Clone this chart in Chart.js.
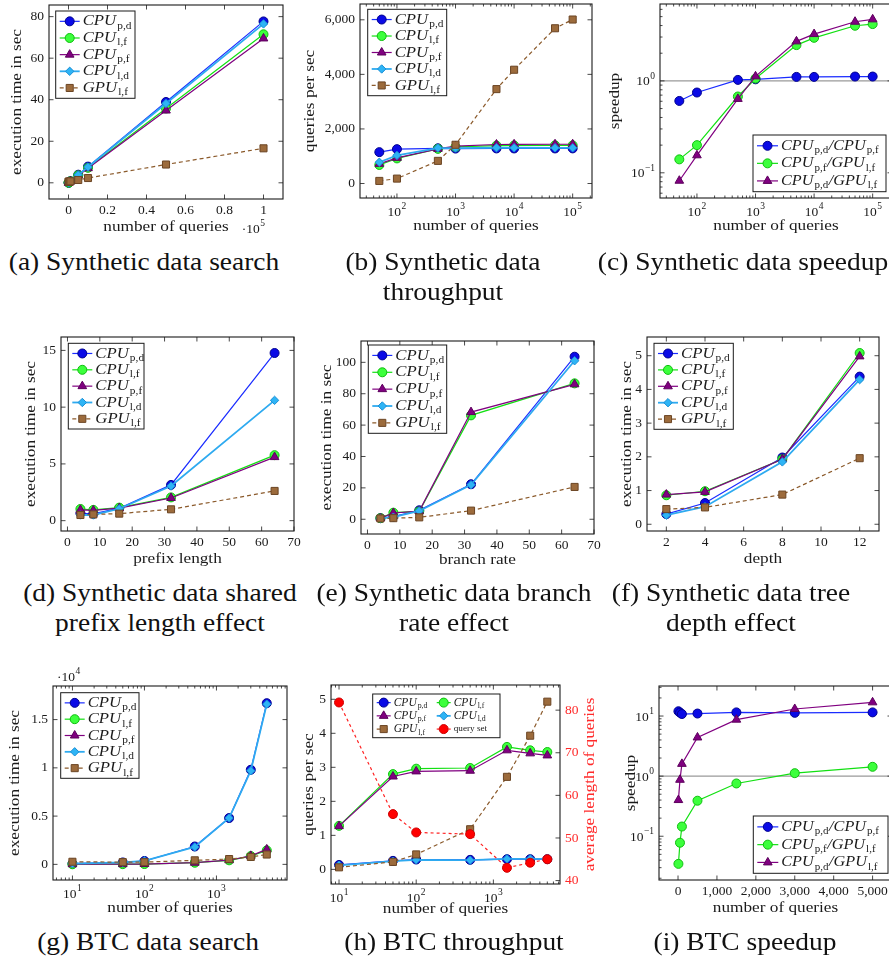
<!DOCTYPE html>
<html>
<head>
<meta charset="utf-8">
<script src="https://cdn.jsdelivr.net/npm/chart.js@4.4.0/dist/chart.umd.min.js"></script>
<style>
  body { margin: 0; background: #fff; overflow: hidden; }
  #page { position: relative; width: 889px; height: 963px; overflow: hidden; background: #fff; }
  .cap {
    position: absolute; white-space: nowrap; color: #111; line-height: 1;
    font-family: "Liberation Serif", "Times New Roman", serif; font-size: 24.5px;
    transform-origin: 0 0; transform: scaleX(1.12) translateX(-50%);
  }
</style>
</head>
<body>
<div id="page"></div>
<script>
// ---- data ----
const synthQ = [50, 100, 500, 1000, 5000, 10000, 50000, 100000];
const btcQ = [10, 50, 100, 500, 1500, 3000, 5000];
const prefixLen = [4, 8, 16, 32, 64];
const branchRate = [4, 8, 16, 32, 64];
const treeDepth = [2, 4, 8, 12];

const timeLabels = ['CPU_{p,d}', 'CPU_{l,f}', 'CPU_{p,f}', 'CPU_{l,d}', 'GPU_{l,f}'];
const speedLabels = ['CPU_{p,d}/CPU_{p,f}', 'CPU_{p,f}/GPU_{l,f}', 'CPU_{p,d}/GPU_{l,f}'];
const btcThroughLabels = ['CPU_{p,d}', 'CPU_{l,f}', 'CPU_{p,f}', 'CPU_{l,d}', 'GPU_{l,f}', 'query set'];

// (a) synthetic search, seconds (x in units of 10^5 queries)
const aCpuPd = [0.04, 0.08, 0.39, 0.78, 3.9, 7.8, 38.9, 77.7];
const aCpuLf = [0.07, 0.11, 0.39, 0.75, 3.6, 7.2, 35.8, 71.5];
const aCpuPf = [0.07, 0.11, 0.39, 0.73, 3.5, 7.0, 34.8, 69.5];
const aCpuLd = [0.06, 0.10, 0.38, 0.77, 3.8, 7.6, 38.2, 76.5];
const aGpuLf = [0.5, 0.55, 0.6, 0.7, 1.35, 2.3, 8.8, 16.6];

// (b) synthetic throughput, queries per sec
const bCpuPd = [1150, 1260, 1290, 1280, 1285, 1285, 1285, 1287];
const bCpuLf = [680, 920, 1270, 1340, 1390, 1395, 1398, 1398];
const bCpuPf = [720, 940, 1270, 1370, 1430, 1435, 1438, 1439];
const bCpuLd = [780, 1030, 1300, 1300, 1310, 1310, 1308, 1307];
const bGpuLf = [95, 180, 830, 1420, 3460, 4170, 5690, 6010];

// (c) synthetic speedup
const cPdPf = [0.605, 0.747, 1.025, 1.04, 1.105, 1.105, 1.115, 1.115];
const cPfGpu = [0.14, 0.2, 0.676, 1.06, 2.45, 2.94, 3.98, 4.15];
const cPdGpu = [0.082, 0.155, 0.637, 1.12, 2.69, 3.23, 4.4, 4.67];

// (d) shared prefix length
const dCpuPd = [0.65, 0.6, 1.1, 3.15, 14.77];
const dCpuLf = [1.03, 0.95, 1.15, 2.05, 5.77];
const dCpuPf = [0.95, 0.9, 1.1, 2.0, 5.6];
const dCpuLd = [0.5, 0.5, 1.05, 3.05, 10.6];
const dGpuLf = [0.5, 0.55, 0.62, 1.0, 2.62];

// (e) branch rate
const eCpuPd = [0.7, 1.7, 5.7, 22.3, 103.6];
const eCpuLf = [0.7, 4.2, 5.0, 66.2, 86.6];
const eCpuPf = [0.7, 4.0, 5.2, 68.3, 86.0];
const eCpuLd = [0.5, 1.3, 5.3, 22.0, 101.0];
const eGpuLf = [0.5, 0.7, 1.2, 5.5, 20.6];

// (f) tree depth
const fCpuPd = [0.3, 0.63, 1.98, 4.38];
const fCpuLf = [0.86, 0.98, 1.93, 5.08];
const fCpuPf = [0.88, 0.96, 1.93, 4.98];
const fCpuLd = [0.27, 0.52, 1.85, 4.29];
const fGpuLf = [0.45, 0.5, 0.88, 1.96];

// (g) BTC search, 10^4 seconds
const gCpuPd = [0.008, 0.02, 0.035, 0.185, 0.48, 0.98, 1.67];
const gCpuLf = [0.001, 0.002, 0.0034, 0.017, 0.042, 0.086, 0.145];
const gCpuPf = [0.001, 0.002, 0.0035, 0.017, 0.043, 0.088, 0.155];
const gCpuLd = [0.008, 0.021, 0.036, 0.18, 0.48, 0.97, 1.66];
const gGpuLf = [0.027, 0.023, 0.023, 0.042, 0.055, 0.077, 0.102];

// (h) BTC throughput + average query length
const hCpuPd = [0.13, 0.25, 0.29, 0.28, 0.30, 0.30, 0.30];
const hCpuLf = [1.28, 2.8, 2.96, 2.98, 3.6, 3.5, 3.45];
const hCpuPf = [1.27, 2.73, 2.88, 2.9, 3.5, 3.41, 3.35];
const hCpuLd = [0.12, 0.24, 0.28, 0.27, 0.31, 0.31, 0.31];
const hGpuLf = [0.06, 0.22, 0.44, 1.18, 2.72, 3.93, 4.93];
const hQueryLen = [81.8, 55.6, 51.3, 50.9, 43.0, 44.2, 45.0];

// (i) BTC speedup
const iPdPf = [12.0, 11.4, 10.8, 11.0, 11.5, 11.3, 11.5];
const iPfGpu = [0.0347, 0.078, 0.145, 0.39, 0.755, 1.12, 1.43];
const iPdGpu = [0.40, 0.87, 1.6, 4.4, 8.7, 13.1, 16.9];

// tick values
const aXTicks = [0, 0.2, 0.4, 0.6, 0.8, 1];
const aYTicks = [0, 20, 40, 60, 80];
const synthLogTicks = [1e2, 1e3, 1e4, 1e5];
const bYTicks = [0, 2000, 4000, 6000];
const cYTicks = [0.1, 1];
const pbXTicks = [0, 10, 20, 30, 40, 50, 60, 70];
const dYTicks = [0, 5, 10, 15];
const eYTicks = [0, 20, 40, 60, 80, 100];
const fXTicks = [2, 4, 6, 8, 10, 12];
const fYTicks = [0, 1, 2, 3, 4, 5];
const btcLogTicks = [1e1, 1e2, 1e3];
const gYTicks = [0, 0.5, 1, 1.5];
const hYTicks = [0, 1, 2, 3, 4, 5];
const hY2Ticks = [40, 50, 60, 70, 80];
const iXTicks = [0, 1000, 2000, 3000, 4000, 5000];
const iYTicks = [0.1, 1, 10];

// ---- styling ----
const FONT = '"Liberation Serif", "Times New Roman", serif';
const INK = '#1a1a1a';
const WORD_SX = 1.12;
const M = { l: 60, t: 30, r: 45, b: 45 };

const STY = {
  cpuPd: { borderColor: '#1a2cff', borderWidth: 1.2, pointStyle: 'circle', pointRadius: 4.5,
           pointBackgroundColor: '#0a0ae6', pointBorderColor: '#00008f' },
  cpuLf: { borderColor: '#12e012', borderWidth: 1.2, pointStyle: 'circle', pointRadius: 4.5,
           pointBackgroundColor: '#3cff3c', pointBorderColor: '#0fbf0f' },
  cpuPf: { borderColor: '#800080', borderWidth: 1.2, pointStyle: 'triangle', pointRadius: 5,
           pointBackgroundColor: '#800080', pointBorderColor: '#5c005c' },
  cpuLd: { borderColor: '#2eaaf0', borderWidth: 1.8, pointStyle: 'rectRot', pointRadius: 4.2,
           pointBackgroundColor: '#2eb4f5', pointBorderColor: '#1a8fd6' },
  gpuLf: { borderColor: '#8b5a2b', borderWidth: 1.2, borderDash: [4, 3], pointStyle: 'rect', pointRadius: 5,
           pointBackgroundColor: '#9c6b3c', pointBorderColor: '#6b4524' },
  query: { borderColor: '#ff2222', borderWidth: 1.2, borderDash: [3, 3], pointStyle: 'circle', pointRadius: 4.5,
           pointBackgroundColor: '#ff0000', pointBorderColor: '#cc0000' }
};

const page = document.getElementById('page');
const SPECS = {};

function txt(ctx, s, x, y, o) {
  ctx.save();
  ctx.translate(x, y);
  if (o.rot) ctx.rotate(o.rot);
  ctx.scale(o.sx || 1, 1);
  ctx.font = (o.italic ? 'italic ' : '') + o.size + 'px ' + FONT;
  ctx.fillStyle = o.color || INK;
  ctx.textAlign = o.align || 'center';
  ctx.textBaseline = 'middle';
  ctx.fillText(s, 0, 0);
  ctx.restore();
}

function measure(ctx, s, size) {
  ctx.save();
  ctx.font = size + 'px ' + FONT;
  const w = ctx.measureText(s).width;
  ctx.restore();
  return w;
}

// 10^k style label
function powLabel(ctx, k, x, y, align, color, prefix) {
  const base = (prefix || '') + '10';
  const ex = k < 0 ? '\u2212' + (-k) : String(k);
  const wb = measure(ctx, base, 13.5), we = measure(ctx, ex, 9.5);
  const w = wb + we + 0.5;
  const x0 = align === 'right' ? x - w : align === 'left' ? x : x - w / 2;
  txt(ctx, base, x0, y, { size: 13.5, align: 'left', color });
  txt(ctx, ex, x0 + wb + 0.5, y - 5.5, { size: 9.5, align: 'left', color });
}

// "CPU_{p,d}" -> italic CPU with small upright subscript
function mathText(ctx, s, x, y, size, sx) {
  ctx.save();
  ctx.translate(x, y);
  ctx.scale(sx, 1);
  ctx.fillStyle = INK;
  ctx.textAlign = 'left';
  ctx.textBaseline = 'middle';
  if (s.indexOf('_') < 0) {
    ctx.font = (size * 0.8) + 'px ' + FONT;
    ctx.fillText(s, 0, 0);
    ctx.restore();
    return;
  }
  const parts = s.split(/_\{([^}]*)\}/);
  let cx = 0;
  parts.forEach((p, i) => {
    if (!p) return;
    const sub = i % 2 === 1;
    ctx.font = (sub ? '' : 'italic ') + (sub ? size * 0.68 : size) + 'px ' + FONT;
    ctx.fillText(p, cx, sub ? size * 0.3 : 0);
    cx += ctx.measureText(p).width + (sub ? 0.5 : 1);
  });
  ctx.restore();
}

function drawAxis(chart, sc, ax, kind) {
  const ctx = chart.ctx, ca = chart.chartArea;
  const horiz = kind === 'x';
  const sides = ax.sides || (horiz ? ['bottom', 'top'] : ['left', 'right']);
  ctx.save();
  ctx.strokeStyle = INK;
  ctx.lineWidth = 0.8;
  const tick = (v, len) => {
    const p = sc.getPixelForValue(v);
    if (horiz ? (p < ca.left - 0.5 || p > ca.right + 0.5) : (p < ca.top - 0.5 || p > ca.bottom + 0.5)) return null;
    ctx.beginPath();
    sides.forEach(sd => {
      if (sd === 'bottom') { ctx.moveTo(p, ca.bottom); ctx.lineTo(p, ca.bottom - len); }
      if (sd === 'top') { ctx.moveTo(p, ca.top); ctx.lineTo(p, ca.top + len); }
      if (sd === 'left') { ctx.moveTo(ca.left, p); ctx.lineTo(ca.left + len, p); }
      if (sd === 'right') { ctx.moveTo(ca.right, p); ctx.lineTo(ca.right - len, p); }
    });
    ctx.stroke();
    return p;
  };
  if (ax.log) {
    const lo = Math.floor(Math.log10(sc.min)), hi = Math.ceil(Math.log10(sc.max));
    for (let k = lo; k <= hi; k++) {
      for (let m = 2; m <= 9; m++) tick(m * Math.pow(10, k), 2.5);
    }
  }
  const color = ax.color || INK;
  ax.ticks.forEach(v => {
    const p = tick(v, 4.5);
    if (p == null) return;
    if (ax.log) {
      const k = Math.round(Math.log10(v));
      if (horiz) powLabel(ctx, k, p, ca.bottom + 14, 'center', color);
      else if (kind === 'y') powLabel(ctx, k, ca.left - 5, p + 1, 'right', color);
      else powLabel(ctx, k, ca.right + 5, p + 1, 'left', color);
    } else {
      const s = v.toLocaleString('en-US');
      if (horiz) txt(ctx, s, p, ca.bottom + 11, { size: 13.5, color });
      else if (kind === 'y') txt(ctx, s, ca.left - 5, p, { size: 13.5, align: 'right', color });
      else txt(ctx, s, ca.right + 5, p, { size: 13.5, align: 'left', color });
    }
  });
  ctx.restore();
}

function drawMarker(ctx, ds, x, y) {
  ctx.fillStyle = ds.pointBackgroundColor;
  ctx.strokeStyle = ds.pointBorderColor;
  ctx.lineWidth = 1;
  Chart.helpers.drawPoint(ctx, { pointStyle: ds.pointStyle, radius: ds.pointRadius, rotation: 0, borderWidth: 1 }, x, y);
}

function drawLegend(chart, S) {
  const lg = S.legend, ctx = chart.ctx;
  const x0 = lg.x - S.ox, y0 = lg.y - S.oy;
  ctx.save();
  ctx.fillStyle = '#fff';
  ctx.fillRect(x0, y0, lg.w, lg.h);
  ctx.strokeStyle = INK;
  ctx.lineWidth = 1;
  ctx.strokeRect(x0, y0, lg.w, lg.h);
  const cols = lg.cols || 1;
  const rows = Math.ceil(lg.labels.length / cols);
  const rowH = (lg.h - 4) / rows;
  lg.labels.forEach((lab, i) => {
    const ds = chart.data.datasets[i];
    const col = i % cols, row = Math.floor(i / cols);
    const sx = x0 + 4 + col * (lg.colW || 0);
    const cy = y0 + 2 + rowH * (row + 0.5);
    ctx.save();
    ctx.strokeStyle = ds.borderColor;
    ctx.lineWidth = ds.borderWidth;
    ctx.setLineDash(ds.borderDash || []);
    ctx.beginPath();
    ctx.moveTo(sx, cy);
    ctx.lineTo(sx + lg.sample, cy);
    ctx.stroke();
    ctx.setLineDash([]);
    drawMarker(ctx, ds, sx + lg.sample / 2, cy);
    ctx.restore();
    mathText(ctx, lab, sx + lg.sample + 3, cy, lg.size, lg.sx || 1.08);
  });
  ctx.restore();
}

const pgf = {
  id: 'pgf',
  beforeDatasetsDraw(chart) {
    const S = SPECS[chart.canvas.id];
    if (S.hline == null) return;
    const ctx = chart.ctx, ca = chart.chartArea;
    const py = chart.scales.y.getPixelForValue(S.hline);
    ctx.save();
    ctx.strokeStyle = '#9a9a9a';
    ctx.lineWidth = 1.3;
    ctx.beginPath();
    ctx.moveTo(ca.left, py);
    ctx.lineTo(ca.right, py);
    ctx.stroke();
    ctx.restore();
  },
  afterDatasetsDraw(chart) {
    const S = SPECS[chart.canvas.id];
    const ctx = chart.ctx, ca = chart.chartArea;
    ctx.save();
    ctx.strokeStyle = INK;
    ctx.lineWidth = 1.1;
    ctx.strokeRect(ca.left, ca.top, ca.right - ca.left, ca.bottom - ca.top);
    ctx.restore();
    drawAxis(chart, chart.scales.x, S.x, 'x');
    drawAxis(chart, chart.scales.y, S.y, 'y');
    if (S.y2) drawAxis(chart, chart.scales.y2, S.y2, 'y2');

    const midX = (ca.left + ca.right) / 2, midY = (ca.top + ca.bottom) / 2;
    txt(ctx, S.xTitle, midX, ca.bottom + (S.xTitleOff || 28), { size: 15.4, sx: WORD_SX });
    txt(ctx, S.yTitle, ca.left - S.yTitleOff, midY, { size: 15.4, sx: WORD_SX, rot: -Math.PI / 2 });
    if (S.y2) {
      txt(ctx, S.y2.title, ca.right + S.y2.titleOff, midY,
          { size: 15.4, sx: WORD_SX, rot: -Math.PI / 2, color: S.y2.color });
    }
    if (S.mult) powLabel(ctx, S.mult.exp, S.mult.x - S.ox, S.mult.y - S.oy, 'left', INK, '\u00b7');
    if (S.legend) drawLegend(chart, S);
  }
};

function makePanel(id, S) {
  const b = S.box;
  S.ox = Math.round(b.L - M.l);
  S.oy = Math.round(b.T - M.t);
  const w = Math.round(b.R - b.L) + M.l + M.r;
  const h = Math.round(b.B - b.T) + M.t + M.b;
  const cv = document.createElement('canvas');
  cv.id = id;
  cv.width = w;
  cv.height = h;
  cv.style.cssText = 'position:absolute;left:' + S.ox + 'px;top:' + S.oy + 'px;width:' + w + 'px;height:' + h + 'px';
  page.appendChild(cv);
  SPECS[id] = S;

  const scale = (ax, pos, fit) => ({
    type: ax.log ? 'logarithmic' : 'linear', position: pos, min: ax.min, max: ax.max, bounds: 'data',
    grid: { display: false }, border: { display: false }, ticks: { display: false }, afterFit: fit
  });
  const scales = {
    x: scale(S.x, 'bottom', s => { s.height = M.b; }),
    y: scale(S.y, 'left', s => { s.width = M.l; })
  };
  if (S.y2) scales.y2 = scale(S.y2, 'right', s => { s.width = M.r; });

  const n = S.series.length;
  const datasets = S.series.map((sr, i) => Object.assign({
    data: sr.x.map((x, j) => ({ x: x, y: sr.y[j] })),
    yAxisID: sr.axis || 'y',
    order: n - i,
    fill: false,
    tension: 0,
    pointBorderWidth: 1
  }, STY[sr.style]));

  new Chart(cv, {
    type: 'line',
    data: { datasets },
    options: {
      responsive: false,
      animation: false,
      events: [],
      layout: { padding: { left: 0, top: M.t, right: S.y2 ? 0 : M.r, bottom: 0 } },
      plugins: { legend: { display: false }, tooltip: { enabled: false } },
      scales
    },
    plugins: [pgf]
  });
}

const aQ = synthQ.map(q => q / 1e5);
const five = (xs, ys) => [
  { x: xs, y: ys[0], style: 'cpuPd' }, { x: xs, y: ys[1], style: 'cpuLf' },
  { x: xs, y: ys[2], style: 'cpuPf' }, { x: xs, y: ys[3], style: 'cpuLd' },
  { x: xs, y: ys[4], style: 'gpuLf' }
];
const three = (xs, ys) => [
  { x: xs, y: ys[0], style: 'cpuPd' }, { x: xs, y: ys[1], style: 'cpuLf' }, { x: xs, y: ys[2], style: 'cpuPf' }
];

makePanel('pa', {
  box: { L: 49, T: 5, R: 283, B: 199 },
  x: { min: -0.1, max: 1.1, ticks: aXTicks },
  y: { min: -7.8, max: 85.6, ticks: aYTicks },
  xTitle: 'number of queries', yTitle: 'execution time in sec', yTitleOff: 32,
  series: five(aQ, [aCpuPd, aCpuLf, aCpuPf, aCpuLd, aGpuLf]),
  legend: { x: 55.7, y: 11, w: 79.3, h: 87.3, sample: 20, size: 15.5, labels: timeLabels },
  mult: { exp: 5, x: 241.7, y: 229 }
});

makePanel('pb', {
  box: { L: 360.3, T: 3.5, R: 592.7, B: 197.5 },
  x: { log: true, min: 23.4, max: 213800, ticks: synthLogTicks },
  y: { min: -531, max: 6579, ticks: bYTicks },
  xTitle: 'number of queries', yTitle: 'queries per sec', yTitleOff: 50,
  series: five(synthQ, [bCpuPd, bCpuLf, bCpuPf, bCpuLd, bGpuLf]),
  legend: { x: 367.7, y: 9.3, w: 79, h: 86.4, sample: 20, size: 15.5, labels: timeLabels }
});

makePanel('pc', {
  box: { L: 660.3, T: 4, R: 892.7, B: 197.5 },
  x: { log: true, min: 23.4, max: 213800, ticks: synthLogTicks },
  y: { log: true, min: 0.0532, max: 6.86, ticks: cYTicks },
  xTitle: 'number of queries', yTitle: 'speedup', yTitleOff: 45, hline: 1,
  series: three(synthQ, [cPdPf, cPfGpu, cPdGpu]),
  legend: { x: 753, y: 135, w: 133, h: 56.7, sample: 21, size: 15, labels: speedLabels }
});

makePanel('pd', {
  box: { L: 61.3, T: 337.3, R: 294.5, B: 531 },
  x: { min: -2, max: 70, ticks: pbXTicks },
  y: { min: -0.91, max: 16.18, ticks: dYTicks },
  xTitle: 'prefix length', yTitle: 'execution time in sec', yTitleOff: 30,
  series: five(prefixLen, [dCpuPd, dCpuLf, dCpuPf, dCpuLd, dGpuLf]),
  legend: { x: 68.3, y: 343.3, w: 75.7, h: 85.7, sample: 20, size: 15.5, labels: timeLabels }
});

makePanel('pe', {
  box: { L: 361, T: 341, R: 594, B: 534 },
  x: { min: -2, max: 70, ticks: pbXTicks },
  y: { min: -9.4, max: 113.6, ticks: eYTicks },
  xTitle: 'branch rate', yTitle: 'execution time in sec', yTitleOff: 34, xTitleOff: 26,
  series: five(branchRate, [eCpuPd, eCpuLf, eCpuPf, eCpuLd, eGpuLf]),
  legend: { x: 368.3, y: 345, w: 78.4, h: 88.3, sample: 20, size: 15.5, labels: timeLabels }
});

makePanel('pf', {
  box: { L: 647.3, T: 337.3, R: 879.7, B: 531 },
  x: { min: 1, max: 13, ticks: fXTicks },
  y: { min: -0.2, max: 5.555, ticks: fYTicks },
  xTitle: 'depth', yTitle: 'execution time in sec', yTitleOff: 20,
  series: five(treeDepth, [fCpuPd, fCpuLf, fCpuPf, fCpuLd, fGpuLf]),
  legend: { x: 654, y: 343.3, w: 79.3, h: 86, sample: 20, size: 15.5, labels: timeLabels }
});

makePanel('pg', {
  box: { L: 53.3, T: 685.7, R: 287.3, B: 880 },
  x: { log: true, min: 5.37, max: 9550, ticks: btcLogTicks },
  y: { min: -0.162, max: 1.848, ticks: gYTicks },
  xTitle: 'number of queries', yTitle: 'execution time in sec', yTitleOff: 38,
  series: five(btcQ, [gCpuPd, gCpuLf, gCpuPf, gCpuLd, gGpuLf]),
  legend: { x: 60.7, y: 692.7, w: 78.3, h: 85.6, sample: 20, size: 15.5, labels: timeLabels },
  mult: { exp: 4, x: 57, y: 677 }
});

makePanel('ph', {
  box: { L: 330.7, T: 685, R: 560, B: 884 },
  x: { log: true, min: 7.87, max: 7300, ticks: btcLogTicks },
  y: { min: -0.43, max: 5.42, ticks: hYTicks, sides: ['left'] },
  y2: { min: 39.2, max: 85.9, ticks: hY2Ticks, sides: ['right'], color: '#ff2a2a',
        title: 'average length of queries', titleOff: 30 },
  xTitle: 'number of queries', yTitle: 'queries per sec', yTitleOff: 22.4, xTitleOff: 25,
  series: five(btcQ, [hCpuPd, hCpuLf, hCpuPf, hCpuLd, hGpuLf])
    .concat([{ x: btcQ, y: hQueryLen, style: 'query', axis: 'y2' }]),
  legend: { x: 372.7, y: 694, w: 127.3, h: 43.7, cols: 2, colW: 60, sample: 14, size: 11.5, sx: 1.0,
            labels: btcThroughLabels }
});

makePanel('pi', {
  box: { L: 658.5, T: 685.7, R: 891.7, B: 879.3 },
  x: { min: -489, max: 5499, ticks: iXTicks },
  y: { log: true, min: 0.0187, max: 31.6, ticks: iYTicks },
  xTitle: 'number of queries', yTitle: 'speedup', yTitleOff: 28.5, hline: 1,
  series: three(btcQ, [iPdPf, iPfGpu, iPdGpu]),
  legend: { x: 753.3, y: 816, w: 134.7, h: 57.3, sample: 21, size: 15, labels: speedLabels }
});

// ---- sub-figure captions ----
const captions = [
  ['(a) Synthetic data search', 144, 270],
  ['(b) Synthetic data', 443, 270], ['throughput', 443, 300],
  ['(c) Synthetic data speedup', 743, 270],
  ['(d) Synthetic data shared', 160, 601.7], ['prefix length effect', 160, 631.7],
  ['(e) Synthetic data branch', 454, 601.7], ['rate effect', 454, 631.7],
  ['(f) Synthetic data tree', 731, 601.7], ['depth effect', 731, 631.7],
  ['(g) BTC data search', 148, 950],
  ['(h) BTC throughput', 454, 950],
  ['(i) BTC speedup', 745, 950]
];
captions.forEach(([t, cx, base]) => {
  const d = document.createElement('div');
  d.className = 'cap';
  d.textContent = t;
  d.style.left = cx + 'px';
  d.style.top = (base - 20.5) + 'px';
  page.appendChild(d);
});
</script>
</body>
</html>
